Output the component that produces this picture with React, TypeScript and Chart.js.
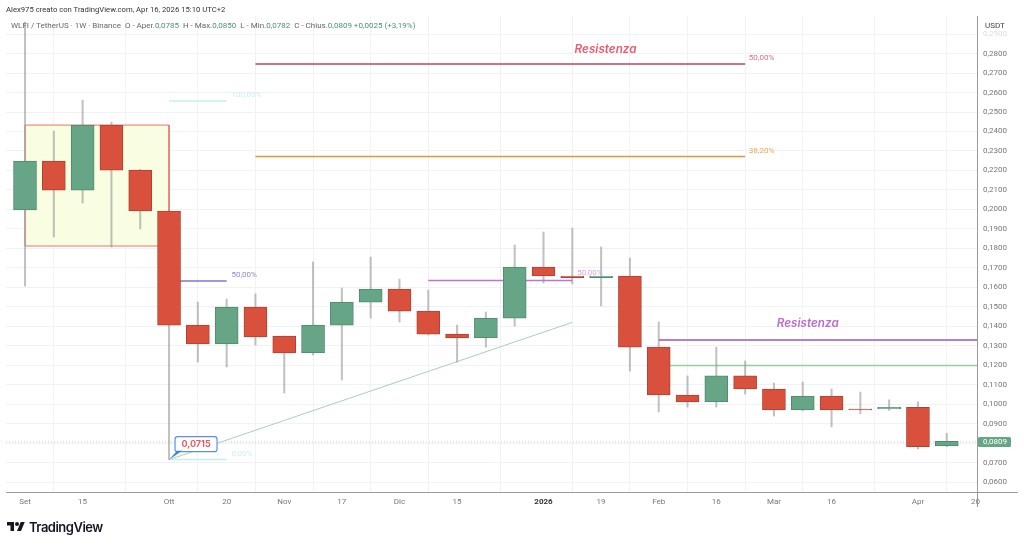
import React, { useEffect, useRef } from "react";
import { Chart, Plugin, registerables } from "chart.js";

Chart.register(...registerables);

const opens = [
  0.1997, 0.2248, 0.2099, 0.2433, 0.2202, 0.1992, 0.1406, 0.1309, 0.1499, 0.135, 0.1263,
  0.1406, 0.1524, 0.1591, 0.1478, 0.136, 0.134, 0.1442, 0.1704, 0.1658, 0.165, 0.1658,
  0.1293, 0.1047, 0.1011, 0.1145, 0.1078, 0.097, 0.1042, 0.0975, 0.0975, 0.0984, 0.0785,
];
const closes = [
  0.2248, 0.2099, 0.2433, 0.2202, 0.1992, 0.1406, 0.1309, 0.1499, 0.1345, 0.1263, 0.1406,
  0.1524, 0.1591, 0.1478, 0.136, 0.134, 0.1442, 0.1704, 0.1658, 0.165, 0.1658, 0.1293,
  0.1047, 0.1011, 0.1145, 0.1078, 0.097, 0.1042, 0.097, 0.097, 0.0984, 0.0782, 0.0809,
];
const highs = [
  0.2962, 0.2402, 0.2561, 0.2448, 0.2205, 0.1995, 0.1524, 0.154, 0.1566, 0.135, 0.173,
  0.1596, 0.1755, 0.1642, 0.1586, 0.1406, 0.1473, 0.1817, 0.1884, 0.1904, 0.1807, 0.175,
  0.1422, 0.1145, 0.1293, 0.1222, 0.1109, 0.1114, 0.1078, 0.1062, 0.1022, 0.1012, 0.085,
];
const lows = [
  0.1606, 0.1858, 0.2033, 0.1807, 0.19, 0.0715, 0.1216, 0.1191, 0.1304, 0.1057, 0.1252,
  0.1124, 0.1442, 0.1422, 0.1355, 0.1216, 0.1293, 0.1401, 0.1622, 0.1617, 0.1504, 0.117,
  0.096, 0.0985, 0.0985, 0.1052, 0.0939, 0.0967, 0.0883, 0.095, 0.0968, 0.077, 0.0782,
];

const tickIndexes = [0, 2, 5, 7, 9, 11, 13, 15, 18, 20, 22, 24, 26, 28, 31, 33];
const tickLabels = ["Set", "15", "Ott", "20", "Nov", "17", "Dic", "15", "2026", "19", "Feb", "16", "Mar", "16", "Apr", "20"];
const priceTicks = [
  0.06, 0.07, 0.08, 0.09, 0.1, 0.11, 0.12, 0.13, 0.14, 0.15, 0.16, 0.17, 0.18, 0.19, 0.2,
  0.21, 0.22, 0.23, 0.24, 0.25, 0.26, 0.27, 0.28, 0.29,
];

const GREEN = "#66a686";
const GREEN_EDGE = "#4f8a6e";
const RED = "#d9503c";
const RED_EDGE = "#b04232";
const GRID = "#f0f3f5";
const AXIS = "#9a9a9a";
const FONT = "Roboto, Inter, sans-serif";
const BOLD_FONT = "Inter, Roboto, sans-serif";

const hline = (from: number, to: number, y: number, color: string, width = 1.5, extra = {}) => ({
  type: "line" as const,
  data: [
    { x: from, y },
    { x: to, y },
  ],
  borderColor: color,
  borderWidth: width,
  pointRadius: 0,
  order: 8,
  ...extra,
});

const labelsAtLevels = [
  { text: "Resistenza", x: 19.08, y: 0.2823, color: "#ee5a6f", font: `italic 600 11.7px ${BOLD_FONT}` },
  { text: "Resistenza", x: 26.1, y: 0.1416, color: "#bb6bd0", font: `italic 600 11.7px ${BOLD_FONT}` },
  { text: "50,00%", x: 25.13, y: 0.2778, color: "#d4708a", font: `8px ${FONT}` },
  { text: "38,20%", x: 25.13, y: 0.2298, color: "#f3a552", font: `8px ${FONT}` },
  { text: "100,00%", x: 7.17, y: 0.2586, color: "#cdefee", font: `8px ${FONT}` },
  { text: "50,00%", x: 7.17, y: 0.1664, color: "#8f86d8", font: `8px ${FONT}` },
  { text: "50,00%", x: 19.17, y: 0.1673, color: "#d9a6de", font: `8px ${FONT}` },
  { text: "0,00%", x: 7.17, y: 0.0745, color: "#cdefee", font: `8px ${FONT}` },
];

// axis tails, drawing labels, callout and last price tag
const drawings: Plugin<"bar"> = {
  id: "drawings",
  afterDatasetsDraw(chart) {
    const { ctx, scales, chartArea } = chart;
    const x = scales.x;
    const y = scales.y;
    ctx.save();

    ctx.strokeStyle = AXIS;
    ctx.lineWidth = 1;
    ctx.beginPath();
    ctx.moveTo(chartArea.right, chartArea.bottom + 0.5);
    ctx.lineTo(1018, chartArea.bottom + 0.5);
    ctx.moveTo(chartArea.right + 0.5, chartArea.bottom);
    ctx.lineTo(chartArea.right + 0.5, chartArea.bottom + 15);
    ctx.stroke();

    ctx.textBaseline = "middle";
    labelsAtLevels.forEach((l) => {
      ctx.font = l.font;
      ctx.fillStyle = l.color;
      ctx.fillText(l.text, x.getPixelForValue(l.x), y.getPixelForValue(l.y));
    });

    // callout on the October low
    const ax = x.getPixelForValue(5);
    const ay = y.getPixelForValue(0.0715);
    ctx.beginPath();
    ctx.roundRect(ax + 6, ay - 23, 42, 15, 2.5);
    ctx.fillStyle = "#ffffff";
    ctx.fill();
    ctx.strokeStyle = "#5b8fee";
    ctx.lineWidth = 1.2;
    ctx.stroke();
    ctx.beginPath();
    ctx.moveTo(ax, ay);
    ctx.lineTo(ax + 8, ay - 9);
    ctx.lineTo(ax + 13, ay - 9);
    ctx.closePath();
    ctx.fillStyle = "#3f7fe8";
    ctx.fill();
    ctx.font = `700 9px ${BOLD_FONT}`;
    ctx.fillStyle = "#ea5a64";
    ctx.textAlign = "center";
    ctx.fillText("0,0715", ax + 27, ay - 15);

    // last price tag
    const py = y.getPixelForValue(0.0806);
    ctx.beginPath();
    ctx.roundRect(chartArea.right + 1, py - 5, 33, 10, 1.5);
    ctx.fillStyle = GREEN;
    ctx.fill();
    ctx.font = `8px ${FONT}`;
    ctx.fillStyle = "#ffffff";
    ctx.textAlign = "left";
    ctx.fillText("0,0809", chartArea.right + 6, py + 0.5);
    ctx.restore();
  },
};

const App: React.FC = () => {
  const chartRef = useRef<HTMLCanvasElement | null>(null);

  useEffect(() => {
    if (!chartRef.current) return;
    const idx = opens.map((_, i) => i);
    const colorOf = (up: string, down: string) => idx.map((i) => (closes[i] >= opens[i] ? up : down));

    const chartInstance = new Chart(chartRef.current, {
      type: "bar",
      data: {
        datasets: [
          // rectangle zone
          hline(0, 5, 0.2433, "transparent", 0, {
            fill: { value: 0.1812 },
            backgroundColor: "#f9fde2",
            order: 10,
          }),
          {
            type: "line" as const,
            data: [
              { x: 0, y: 0.1812 },
              { x: 0, y: 0.2433 },
              { x: 5, y: 0.2433 },
              { x: 5, y: 0.1812 },
              { x: 0, y: 0.1812 },
            ],
            borderColor: "#e9766a",
            borderWidth: 1,
            pointRadius: 0,
            order: 9,
          },
          // fib levels and drawn lines
          hline(8, 25, 0.2746, "#b8475f"),
          hline(8, 25, 0.2271, "#ef9235"),
          hline(5, 7, 0.2556, "#c9eeee"),
          hline(5, 7, 0.1632, "#7f75cc"),
          hline(5, 7, 0.0716, "#c9eeee"),
          hline(14, 19, 0.1635, "#c66fd0"),
          hline(22, 33.05, 0.1329, "#b57fcc", 2),
          hline(22, 33.05, 0.1198, "#94d098"),
          {
            type: "line" as const,
            data: [
              { x: 5, y: 0.0715 },
              { x: 19, y: 0.142 },
            ],
            borderColor: "#a6d2b4",
            borderWidth: 1,
            pointRadius: 0,
            order: 8,
          },
          hline(-0.66, 33.05, 0.0806, "#c4c7ca", 1, { borderDash: [1, 2], order: 7 }),
          {
            data: idx.map((i) => ({ x: i, y: [lows[i], highs[i]] })),
            backgroundColor: "rgba(140,146,140,0.55)",
            barThickness: 1.4,
            order: 6,
          },
          {
            data: idx.map((i) => ({ x: i, y: [opens[i], closes[i]] })),
            backgroundColor: colorOf(GREEN, RED),
            borderColor: colorOf(GREEN_EDGE, RED_EDGE),
            borderWidth: 1,
            borderSkipped: false,
            barThickness: 23,
            order: 4,
          },
        ] as any,
      },
      options: {
        animation: false,
        responsive: false,
        devicePixelRatio: 1,
        layout: { padding: { left: 6, top: 16, right: 0, bottom: 0 } },
        plugins: { legend: { display: false }, tooltip: { enabled: false } },
        datasets: { bar: { grouped: false } },
        scales: {
          x: {
            type: "linear",
            offset: false,
            min: -0.66,
            max: 33.05,
            afterBuildTicks: (scale) => {
              scale.ticks = tickIndexes.map((value) => ({ value }));
            },
            afterFit: (scale) => {
              scale.height = 53;
            },
            grid: { color: GRID, tickLength: 0 },
            border: { color: AXIS },
            ticks: {
              autoSkip: false,
              maxRotation: 0,
              padding: 5,
              color: (c) => (c.tick?.value === 18 ? "#333333" : "#777777"),
              font: (c) => ({ family: FONT, size: 8, weight: c.tick?.value === 18 ? 700 : 400 }),
              callback: (value) => tickLabels[tickIndexes.indexOf(Number(value))],
            },
          },
          y: {
            type: "linear",
            position: "right",
            min: 0.0549,
            max: 0.2993,
            afterBuildTicks: (scale) => {
              scale.ticks = priceTicks.map((value) => ({ value }));
            },
            afterFit: (scale) => {
              scale.width = 47;
            },
            grid: { color: GRID, tickLength: 0 },
            border: { color: AXIS },
            ticks: {
              autoSkip: false,
              padding: 6,
              color: (c) => (c.tick?.value === 0.29 ? "#dddddd" : "#777777"),
              font: { family: FONT, size: 8 },
              // the 0,0800 label sits under the last price tag
              callback: (value) => (value === 0.08 ? "" : Number(value).toFixed(4).replace(".", ",")),
            },
          },
        },
      },
      plugins: [drawings],
    });

    return () => {
      chartInstance.destroy();
    };
  }, []);

  const val: React.CSSProperties = { color: "#4d9172" };

  return (
    <div style={{ position: "fixed", inset: 0, background: "#ffffff", fontFamily: FONT }}>
      <canvas ref={chartRef} width={1024} height={545} style={{ display: "block" }} />
      <div style={{ position: "absolute", left: 6, top: 5, fontSize: 7.7, color: "#333333", whiteSpace: "pre" }}>
        Alex975 creato con TradingView.com, Apr 16, 2026 15:10 UTC+2
      </div>
      <div style={{ position: "absolute", left: 11, top: 21, fontSize: 8, color: "#666666", whiteSpace: "pre" }}>
        {"WLFI / TetherUS · 1W · Binance  O - Aper."}
        <span style={val}>0,0785</span>
        {"  H - Max."}
        <span style={val}>0,0850</span>
        {"  L - Min."}
        <span style={val}>0,0782</span>
        {"  C - Chius."}
        <span style={val}>0,0809 +0,0025 (+3,19%)</span>
      </div>
      <div style={{ position: "absolute", left: 985, top: 21, fontSize: 8, fontWeight: 400, color: "#444444" }}>USDT</div>
      <div style={{ position: "absolute", left: 7, top: 519, display: "flex", alignItems: "center", gap: 4 }}>
        <svg width="18" height="14" viewBox="0 0 36 28">
          <path d="M14 22H7V11H0V4h14v18zM28 22h-8l7.5-18h8L28 22z" fill="#131722" />
          <circle cx="20" cy="8" r="4" fill="#131722" />
        </svg>
        <span style={{ fontFamily: BOLD_FONT, fontSize: 13, fontWeight: 600, color: "#131722", letterSpacing: -0.5 }}>TradingView</span>
      </div>
    </div>
  );
};

export default App;
